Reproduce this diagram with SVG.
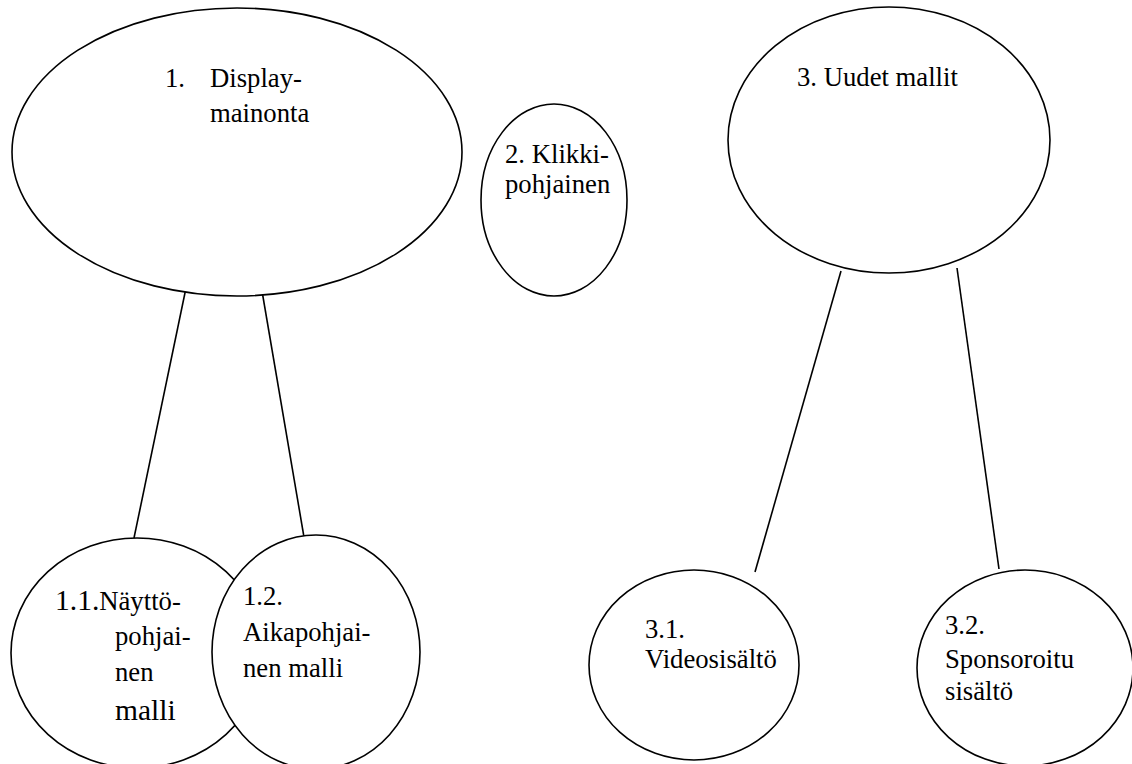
<svg xmlns="http://www.w3.org/2000/svg" width="1132" height="764" viewBox="0 0 1132 764" font-family="'Liberation Serif', 'Times New Roman', Times, serif">
<style>
.n{fill:#fff;stroke:#000;stroke-width:1.6}
.c{stroke:#000;stroke-width:1.6;fill:none}
text{font-family:'Liberation Serif','Times New Roman',Times,serif;font-size:26.7px;fill:#000}
.big{font-size:29.5px}
</style>
<rect width="1132" height="764" fill="#fff"/>
<g id="connectors">
<line class="c" x1="186" y1="288" x2="134" y2="538"/>
<line class="c" x1="262" y1="291" x2="305" y2="543"/>
<line class="c" x1="841" y1="271" x2="755" y2="572"/>
<line class="c" x1="957" y1="268" x2="999" y2="569"/>
</g>
<g id="n1">
<ellipse class="n" cx="237" cy="152" rx="225" ry="144"/>
<text x="165" y="87">1.</text>
<text x="210" y="87">Display-</text>
<text x="210" y="122">mainonta</text>
</g>
<g id="n2">
<ellipse class="n" cx="554" cy="200" rx="73" ry="96"/>
<text x="505" y="163">2. Klikki-</text>
<text x="505" y="193">pohjainen</text>
</g>
<g id="n3">
<ellipse class="n" cx="889" cy="140" rx="161" ry="133"/>
<text x="797" y="86">3. Uudet mallit</text>
</g>
<g id="n11">
<ellipse class="n" cx="137" cy="653" rx="126" ry="115"/>
<text x="55" y="610"><tspan class="big">1.1.</tspan>Näyttö-</text>
<text x="115" y="645">pohjai-</text>
<text x="115" y="681">nen</text>
<text x="115" y="720" class="big">malli</text>
</g>
<g id="n12">
<ellipse class="n" cx="316" cy="652" rx="104" ry="117"/>
<text x="243" y="605">1.2.</text>
<text x="243" y="641">Aikapohjai-</text>
<text x="243" y="677">nen malli</text>
</g>
<g id="n31">
<ellipse class="n" cx="694" cy="665" rx="105" ry="95"/>
<text x="645" y="638">3.1.</text>
<text x="645" y="668">Videosisältö</text>
</g>
<g id="n32">
<ellipse class="n" cx="1025" cy="668" rx="108" ry="98"/>
<text x="945" y="634">3.2.</text>
<text x="945" y="668">Sponsoroitu</text>
<text x="945" y="700">sisältö</text>
</g>
</svg>
